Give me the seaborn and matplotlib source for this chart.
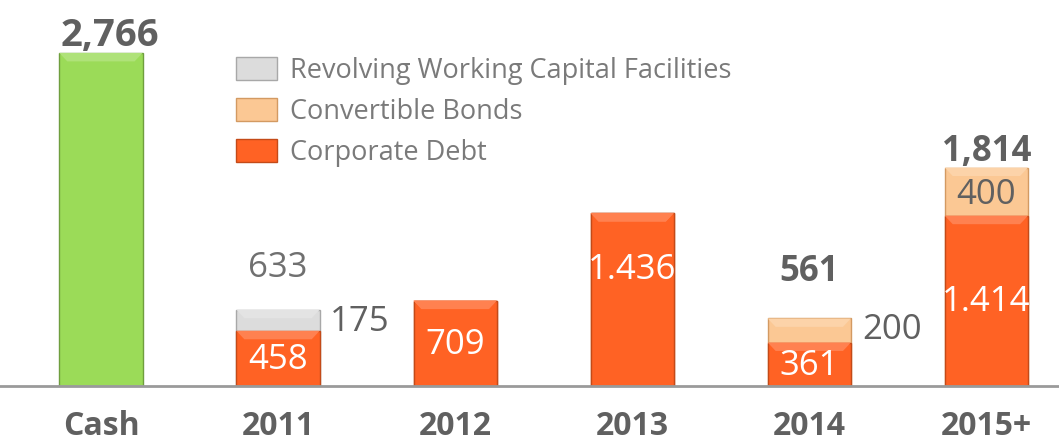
import matplotlib
matplotlib.use("Agg")
import matplotlib.pyplot as plt
import seaborn as sns
import pandas as pd
import numpy as np
from matplotlib.patches import Patch, Polygon
from matplotlib.colors import to_rgb

categories = ["Cash", "2011", "2012", "2013", "2014", "2015+"]
cash = [2766, 0, 0, 0, 0, 0]
corporate_debt = [0, 458, 709, 1436, 361, 1414]
convertible_bonds = [0, 0, 0, 0, 200, 400]
revolving = [0, 175, 0, 0, 0, 0]
totals = [c + d + b + r for c, d, b, r in zip(cash, corporate_debt, convertible_bonds, revolving)]

GREEN = "#9BDB58"
ORANGE = "#FF6224"
PEACH = "#FBC894"
GRAY = "#DCDCDC"
TEXT = "#606060"
EDGES = {GREEN: "#6f9e3e", GRAY: "#a8a8a8", PEACH: "#d39a62", ORANGE: "#c44a18"}

sns.set_theme(style="white")
plt.rcParams["font.family"] = ["Open Sans", "DejaVu Sans"]

top_colors = []
for c, b, r in zip(cash, convertible_bonds, revolving):
    if c:
        top_colors.append(GREEN)
    elif r:
        top_colors.append(GRAY)
    elif b:
        top_colors.append(PEACH)
    else:
        top_colors.append(ORANGE)

df = pd.DataFrame({"cat": categories, "total": totals, "corp": corporate_debt})

fig = plt.figure(figsize=(10.59, 4.42), dpi=100)
ax = fig.add_axes([0, 56 / 442, 1, 386 / 442])

sns.barplot(data=df, x="cat", y="total", hue="cat", palette=dict(zip(categories, top_colors)),
            legend=False, width=0.47, ax=ax, linewidth=1.0, saturation=1)
sns.barplot(data=df, x="cat", y="corp", color=ORANGE, width=0.47, ax=ax,
            linewidth=1.0, saturation=1)

ax.set_xlim(-0.57, 5.41)
ax.set_ylim(0, 3206)

# edges + bevel highlight
def lighten(c, f):
    r = np.array(to_rgb(c))
    return tuple(r + (1 - r) * f)

bev_y = 70
bev_x = 0.045
for p in list(ax.patches):
    h = p.get_height()
    if h <= 0:
        continue
    hexc = matplotlib.colors.to_hex(p.get_facecolor())
    key = min(EDGES, key=lambda k: np.sum((np.array(to_rgb(k)) - np.array(to_rgb(hexc))) ** 2))
    p.set_edgecolor(EDGES[key])
    x0, w, y0 = p.get_x(), p.get_width(), p.get_y()
    top = y0 + h
    by = min(bev_y, h * 0.45)
    poly = Polygon([(x0, top), (x0 + w, top), (x0 + w - bev_x, top - by), (x0 + bev_x, top - by)],
                   closed=True, facecolor=lighten(key, 0.2), edgecolor="none", zorder=p.get_zorder() + 0.1)
    ax.add_patch(poly)

ax.set_xlabel("")
ax.set_ylabel("")
ax.set_yticks([])
for s in ["top", "left", "right"]:
    ax.spines[s].set_visible(False)
ax.spines["bottom"].set_color("#9a9a9a")
ax.spines["bottom"].set_linewidth(2)
ax.tick_params(axis="x", length=0, pad=17, labelsize=23, labelcolor=TEXT)
for t in ax.get_xticklabels():
    t.set_fontweight("bold")

# Value labels
ax.text(0.05, 2905, "2,766", ha="center", va="center", fontsize=27.5, fontweight="bold", color=TEXT)
ax.text(1, 980, "633", ha="center", va="center", fontsize=25, color="#707070")
ax.text(1.29, 532, "175", ha="left", va="center", fontsize=25, color=TEXT)
ax.text(1, 216, "458", ha="center", va="center", fontsize=25, color="white")
ax.text(2, 340, "709", ha="center", va="center", fontsize=25, color="white")
ax.text(3, 963, "1.436", ha="center", va="center", fontsize=25, color="white")
ax.text(4, 947, "561", ha="center", va="center", fontsize=25, fontweight="bold", color=TEXT)
ax.text(4.30, 465, "200", ha="left", va="center", fontsize=25, color=TEXT)
ax.text(4, 166, "361", ha="center", va="center", fontsize=25, color="white")
ax.text(5, 1586, "400", ha="center", va="center", fontsize=25, color=TEXT)
ax.text(5, 698, "1.414", ha="center", va="center", fontsize=25, color="white")
ax.text(5, 1940, "1,814", ha="center", va="center", fontsize=25, fontweight="bold", color=TEXT)

handles = [
    Patch(facecolor=GRAY, edgecolor=EDGES[GRAY], label="Revolving Working Capital Facilities"),
    Patch(facecolor=PEACH, edgecolor=EDGES[PEACH], label="Convertible Bonds"),
    Patch(facecolor=ORANGE, edgecolor=EDGES[ORANGE], label="Corporate Debt"),
]
leg = fig.legend(handles=handles, loc="upper left", bbox_to_anchor=(236 / 1059, 1 - 57 / 442),
                 frameon=False, fontsize=19.5, labelcolor="#7a7a7a",
                 handlelength=1.5, handleheight=0.9, handletextpad=0.5, labelspacing=0.48,
                 borderpad=0, borderaxespad=0)

fig.savefig("out.png", dpi=100)
